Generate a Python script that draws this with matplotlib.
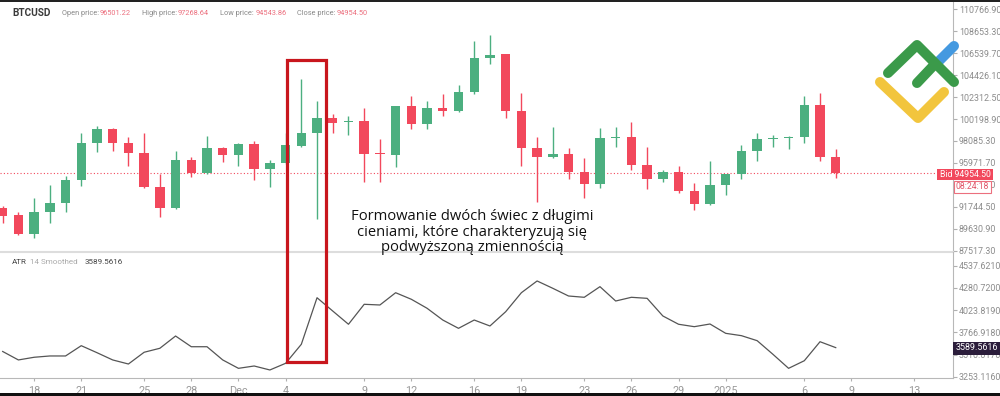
import numpy as np
import pandas as pd
import matplotlib
matplotlib.use("Agg")
import matplotlib.pyplot as plt
from matplotlib.patches import Rectangle
from matplotlib.lines import Line2D

plt.rcParams['font.family'] = ['Roboto', 'DejaVu Sans']

# daily BTCUSD candles, 16 Nov 2024 - 8 Jan 2025
dates = pd.date_range('2024-11-16', '2025-01-08', freq='D')
o = [91610, 90936, 89106, 91224, 92091, 94306, 97869, 99217, 97869, 96906,
     93632, 91610, 96232, 94980, 97388, 96714, 97773, 95365, 95943, 97580,
     98832, 100277, 99891, 99988, 96906, 96714, 101432, 99699, 101240, 100951,
     102780, 106055, 106440, 100951, 97388, 96521, 96810, 95076, 93921, 98351,
     98447, 95751, 94402, 95076, 93247, 91995, 93825, 94884, 97099, 98254,
     98351, 98447, 101529, 96501.22]
h = [91800, 91224, 92573, 93825, 94691, 98832, 99506, 99314, 98447, 98832,
     94884, 97099, 96521, 98543, 97484, 97869, 98062, 96232, 98832, 104032,
     101914, 100662, 100469, 101240, 98254, 101500, 102395, 101914, 102588, 103455,
     107692, 108270, 106500, 102684, 98447, 99410, 97388, 96425, 99314, 99410,
     99891, 97484, 95269, 95654, 94017, 96136, 94900, 97677, 98832, 98640,
     98543, 102395, 102684, 97268.64]
l = [90165, 89010, 88721, 90165, 91224, 93728, 97002, 97099, 95654, 93550,
     90743, 91500, 94595, 94900, 96039, 95654, 94306, 93632, 95900, 97500,
     90550, 98832, 98640, 94113, 94113, 95558, 99217, 99217, 100469, 100900,
     102588, 105477, 100277, 95654, 92187, 96425, 94402, 92573, 93536, 97484,
     95269, 93439, 94113, 93054, 91417, 91900, 92862, 94402, 96136, 97484,
     97291, 97869, 96136, 94543.86]
c = [90839, 89106, 91224, 92091, 94306, 97869, 99217, 97869, 96906, 93632,
     91610, 96232, 94980, 97388, 96714, 97773, 95365, 95943, 97677, 98832,
     100277, 99795, 99988, 96810, 96810, 101432, 99699, 101240, 100951, 102780,
     106055, 106344, 100951, 97388, 96521, 96810, 95076, 93921, 98351, 98447,
     95751, 94402, 95076, 93247, 91995, 93825, 94884, 97099, 98254, 98351,
     98447, 101529, 96500, 94954.50]
atr = [3545, 3447, 3478, 3493, 3493, 3612, 3531, 3447, 3400, 3536,
       3582, 3724, 3600, 3600, 3447, 3350, 3377, 3331, 3408, 3628,
       4167, 4013, 3860, 4091, 4083, 4225, 4149, 4045, 3909, 3813,
       3909, 3840, 4005, 4225, 4361, 4276, 4187, 4172, 4295, 4129,
       4172, 4160, 3956, 3860, 3832, 3863, 3755, 3728, 3670, 3513,
       3350, 3438, 3658, 3589.5616]

xtick_dates = ['2024-11-18', '2024-11-21', '2024-11-25', '2024-11-28', '2024-12-01',
               '2024-12-04', '2024-12-09', '2024-12-12', '2024-12-16', '2024-12-19',
               '2024-12-23', '2024-12-26', '2024-12-29', '2025-01-01', '2025-01-06',
               '2025-01-09', '2025-01-13']
xtick_labels = ['18', '21', '25', '28', 'Dec', '4', '9', '12', '16', '19',
                '23', '26', '29', '2025', '6', '9', '13']
price_ticks = [87517.30, 89630.90, 91744.50, 93858.10, 95971.70, 98085.30,
               100198.90, 102312.50, 104426.10, 106539.70, 108653.30, 110766.90]
atr_ticks = [3253.1160, 3510.0170, 3766.9180, 4023.8190, 4280.7200, 4537.6210]

bid = c[-1]
atr_last = atr[-1]

GREEN = '#4caf80'
RED = '#f2485c'
GREY = '#8c8c8c'

W, H = 1000, 396
fig = plt.figure(figsize=(W / 100, H / 100), dpi=100)
fig.patch.set_facecolor('white')


def px(x, y):
    return x / W, 1 - y / H


ax1 = fig.add_axes([0, 144 / H, 953 / W, 252 / H])
ax2 = fig.add_axes([0, 18 / H, 953 / W, 126 / H])

x = np.arange(len(dates))
d0 = dates[0]
xt = [(pd.Timestamp(d) - d0).days for d in xtick_dates]

# candles
o_a, h_a, l_a, c_a = map(np.array, (o, h, l, c))
up = c_a >= o_a
cols = np.where(up, GREEN, RED)
body = np.abs(c_a - o_a)
body = np.maximum(body, 110)
bottom = np.minimum(o_a, c_a)
ax1.vlines(x, l_a, h_a, colors=cols, lw=1, zorder=2)
ax1.bar(x, body, bottom=bottom, width=0.6, color=cols, zorder=3, linewidth=0)
ax1.axhline(bid, color=RED, lw=0.8, ls=(0, (1, 2)), zorder=1)

ax1.set_xlim(-0.17, 60.46)
ax1.set_ylim(87392, 111662)
ax1.set_yticks(price_ticks)
ax1.set_yticklabels([f'{v:.2f}' for v in price_ticks])
ax1.set_xticks([])

# ATR
ax2.plot(x, atr, color='#555555', lw=0.9)
ax2.set_xlim(-0.17, 60.46)
ax2.set_ylim(3238.1, 4696.2)
ax2.set_yticks(atr_ticks)
ax2.set_yticklabels([f'{v:.4f}' for v in atr_ticks])
ax2.set_xticks(xt)
ax2.set_xticklabels(xtick_labels)

for ax in (ax1, ax2):
    ax.set_facecolor('none')
    ax.yaxis.tick_right()
    ax.tick_params(axis='y', colors='#b0b0b0', labelcolor=GREY, labelsize=6.4,
                   length=3, width=0.8, pad=1.2)
    ax.tick_params(axis='x', colors='#b0b0b0', labelcolor='#999999', labelsize=7.8,
                   length=2.5, width=0.8, pad=3)
    for s in ('left', 'top'):
        ax.spines[s].set_visible(False)
    ax.spines['right'].set_color('#b8b8b8')
    ax.spines['bottom'].set_color('#b8b8b8')
ax1.spines['bottom'].set_color('#dddddd')
ax1.spines['bottom'].set_linewidth(1.5)

# highlight box around the two long-shadow candles
fig.canvas.draw()
box_left, box_right = 18.11, 20.57
box_top_price, box_bottom_atr = 105862, 3427
to_fig = fig.transFigure.inverted()
x0f, y1f = to_fig.transform(ax1.transData.transform((box_left, box_top_price)))
x1f, y0f = to_fig.transform(ax2.transData.transform((box_right, box_bottom_atr)))
fig.patches.append(Rectangle((x0f, y0f), x1f - x0f, y1f - y0f, fill=False,
                             ec='#c8161d', lw=2.3, transform=fig.transFigure, zorder=5))

fig.text(*px(472, 232), 'Formowanie dwóch świec z długimi\ncieniami, które charakteryzują się\npodwyższoną zmiennością',
         ha='center', va='center', fontsize=10.6, family=['Open Sans', 'DejaVu Sans'],
         color='#111111', linespacing=1.05, zorder=6)

# header
fig.text(*px(12, 13), 'BTCUSD', fontsize=7.2, weight='bold', color='#3a3a3a', va='center')
hdr = [(62, 'Open price:', 100, '96501.22'), (142, 'High price:', 178, '97268.64'),
       (220, 'Low price:', 256, '94543.86'), (297, 'Close price:', 337, '94954.50')]
for xl, lab, xv, val in hdr:
    fig.text(*px(xl, 13.5), lab, fontsize=5.3, color='#888888', va='center')
    fig.text(*px(xv, 13.5), val, fontsize=5.3, color='#ec6f7e', va='center')

fig.text(*px(12, 262), 'ATR', fontsize=5.8, color='#444444', va='center')
fig.text(*px(29.5, 262), '14 Smoothed', fontsize=5.8, color='#aaaaaa', va='center')
fig.text(*px(84.5, 262), f'{atr_last:.4f}', fontsize=5.8, color='#444444', va='center')

# price tags on the axis
bx0, by0 = px(937, 180)
fig.patches.append(Rectangle((bx0, by0), 56 / W, 11 / H, fc=RED, ec='none',
                             transform=fig.transFigure, zorder=4))
fig.text(*px(965, 174.5), f'Bid {bid:.2f}', fontsize=6.2, color='white',
         ha='center', va='center', zorder=6)
tx0, ty0 = px(953.5, 192.5)
fig.patches.append(Rectangle((tx0, ty0), 37 / W, 12 / H, fc='white', ec='#ec6f7e', lw=0.8,
                             transform=fig.transFigure, zorder=4))
fig.text(*px(972, 186.5), '08:24:18', fontsize=6.2, color='#e05568',
         ha='center', va='center', zorder=6)
ax0, ay0 = px(953, 354.5)
fig.patches.append(Rectangle((ax0, ay0), 47 / W, 13 / H, fc='#2b1d3b', ec='none',
                             transform=fig.transFigure, zorder=4))
fig.text(*px(976.5, 348), f'{atr_last:.4f}', fontsize=6.4, color='white',
         ha='center', va='center', zorder=6)

# watermark logo
def stroke(pts, color):
    xs = [p[0] / W for p in pts]
    ys = [1 - p[1] / H for p in pts]
    fig.lines.append(Line2D(xs, ys, color=color, lw=7.2, solid_capstyle='round',
                            solid_joinstyle='round', transform=fig.transFigure, zorder=3))

stroke([(939, 61), (954, 46)], '#4499e0')
stroke([(888, 73), (917, 45), (954, 82)], '#3b9a4a')
stroke([(917, 83), (935, 64)], '#3b9a4a')
stroke([(880, 82), (918, 118), (944, 92)], '#f2c53d')

# frame lines at top and bottom
fig.patches.append(Rectangle((0, 1 - 1.5 / H), 1, 1.5 / H, fc='#222222', ec='none',
                             transform=fig.transFigure, zorder=7))
fig.patches.append(Rectangle((0, 0), 1, 3 / H, fc='#111111', ec='none',
                             transform=fig.transFigure, zorder=7))

fig.savefig('out.png', dpi=100)
